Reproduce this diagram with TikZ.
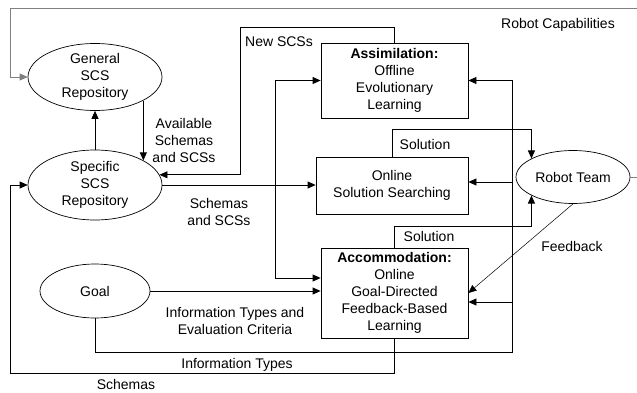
\documentclass[tikz,border=0pt]{standalone}
\usepackage{fontspec}
\setmainfont{Liberation Sans}
\usetikzlibrary{shapes.geometric,arrows.meta}

\begin{document}
\begin{tikzpicture}[x=1pt,y=-1pt,
  every node/.style={font=\fontsize{14}{17}\selectfont},
  repo/.style={draw,ellipse,inner sep=0pt,align=center,line width=0.7pt},
  learnbox/.style={draw,rectangle,inner sep=0pt,align=center,line width=0.8pt},
  lbl/.style={align=center,inner sep=0pt},
  >={Triangle[length=8pt,width=7pt]},
  flow/.style={->,line width=0.8pt}]
  \useasboundingbox (0,0) rectangle (637,393);

  % repositories, goal and team
  \node[repo,minimum width=134pt,minimum height=67pt] (gen) at (95,77) {General\\SCS\\Repository};
  \node[repo,minimum width=134pt,minimum height=70pt] (spec) at (95,185) {Specific\\SCS\\Repository};
  \node[repo,minimum width=110pt,minimum height=54pt] (goal) at (95,291) {Goal};
  \node[repo,minimum width=114pt,minimum height=53pt] (rob) at (573,177) {Robot Team};

  % learning boxes
  \node[learnbox,minimum width=147pt,minimum height=75pt] (asm) at (394.5,80.5) {\textbf{Assimilation:}\\Offline\\Evolutionary\\Learning};
  \node[learnbox,minimum width=152pt,minimum height=57pt] (onl) at (392,185.5) {Online\\Solution Searching};
  \node[learnbox,minimum width=147pt,minimum height=90pt] (acc) at (394.5,293) {\textbf{Accommodation:}\\Online\\Goal-Directed\\Feedback-Based\\Learning};

  \coordinate (split) at (275,185); % schemas to all three boxes
  \coordinate (bus) at (512,352);   % information types to all three boxes

  \draw[flow] (spec.north) -- (gen.south);
  \draw[flow] (gen.-26) -- (gen.-26 |- spec.27);
  \draw[flow] (asm.north) |- (240,27) |- (spec.9);
  \draw[flow] (spec.east) -- (spec.east -| onl.west);
  \draw[flow] (split) |- (asm.west);
  \draw[flow] (split) |- ([yshift=15pt]acc.west);
  \draw[flow] (goal.east) -- (goal.east -| acc.west);
  \draw[flow] (goal.south) |- (bus) |- (asm.east);
  \draw[flow] (bus |- 0,182) -- ([yshift=3.5pt]onl.east);
  \draw[flow] (bus |- 0,302) -- ([yshift=-9pt]acc.east);
  \draw[flow] (acc.south) |- (10,373) |- (spec.west);
  \draw[flow] (onl.north) |- (rob.156 |- 0,129) -- (rob.156);
  \draw[flow] (acc.north) |- (rob.204 |- 0,226) -- (rob.204);
  \draw[->,line width=0.5pt] (rob.south) -- (acc.east);
  \draw[flow,gray] (rob.east) -- (639,177) |- (10,8) |- (gen.west);

  % labels
  \node[lbl] (robcap) at (558,25) {Robot Capabilities};
  \node[lbl] (newscs) at (279,42) {New SCSs};
  \node[lbl] (avail) at (184,140) {Available\\Schemas\\and SCSs};
  \node[lbl] (schscs) at (219,212) {Schemas\\and SCSs};
  \node[lbl] (sol1) at (425,144) {Solution};
  \node[lbl] (sol2) at (429,236) {Solution};
  \node[lbl] (fb) at (572,246) {Feedback};
  \node[lbl] (itec) at (235,321) {Information Types and\\Evaluation Criteria};
  \node[lbl] (itypes) at (237,365) {Information Types};
  \node[lbl] (schm) at (126,384.5) {Schemas};
\end{tikzpicture}
\end{document}
